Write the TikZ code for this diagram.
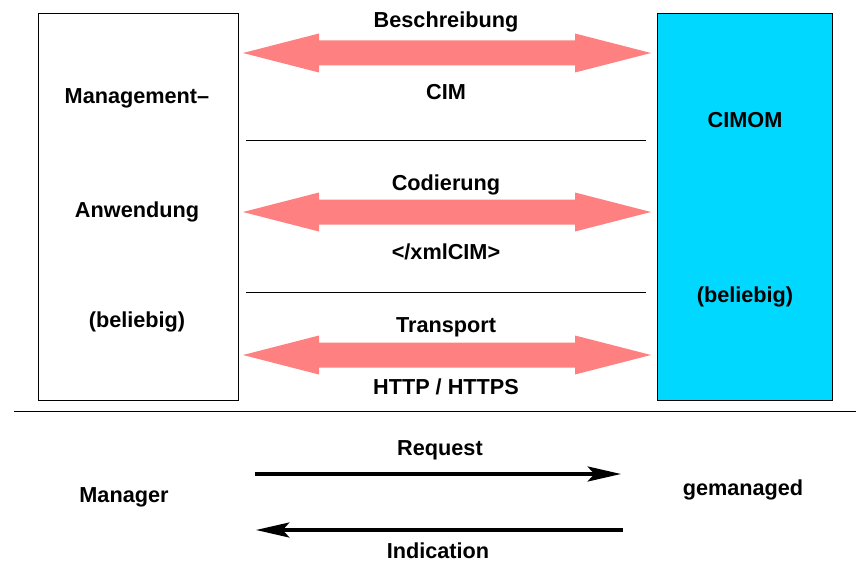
\documentclass[tikz,border=0pt]{standalone}
\usepackage{fontspec}
\setmainfont{Liberation Sans}
\usetikzlibrary{
    arrows.meta,
    positioning,
}
\definecolor{pinkArrow}{HTML}{FF8080}
\definecolor{cimomBlue}{HTML}{00D8FF}

% double-headed block arrow between two named points (408 units apart)
\newcommand{\layerArrow}[2]{%
    \fill [pinkArrow] (#1) -- ++(76,-19.5) -- ++(0,7) -- ++(256,0) -- ++(0,-7)
        -- (#2) -- ++(-76,19.5) -- ++(0,-7) -- ++(-256,0) -- ++(0,7) -- cycle;}

\begin{document}
\begin{tikzpicture}[x=0.03cm,y=-0.03cm,font=\fontsize{18.5}{22}\selectfont\bfseries]

    \tikzstyle{box}=[draw=black, line width=1pt, rectangle, inner sep=0pt, anchor=north west]
    \tikzstyle{label}=[inner sep=0pt, anchor=center]
    \tikzstyle{msg}=[black, line width=3pt, -{Stealth[length=1cm,width=0.45cm,inset=0.2cm]}]
    \tikzstyle{rule}=[black, line width=0.8pt]

    \useasboundingbox (0,0) rectangle (856,562);

    % Boxes
    \node at (38,13)  [box, minimum width=6cm, minimum height=11.61cm] (app)   {};
    \node at (657,13) [box, fill=cimomBlue, minimum width=5.25cm, minimum height=11.61cm] (cimom) {};

    % Texts inside the boxes
    \node at (137,98)  [label] (appA) {Management--};
    \node at (137,212) [label] (appB) {Anwendung};
    \node at (137,322) [label] (appC) {(beliebig)};
    \node at (745,120) [label] (cimA) {CIMOM};
    \node at (745,297) [label] (cimB) {(beliebig)};

    % Layers between the boxes
    \coordinate (l1) at (243,53);  \coordinate (r1) at (651,53);
    \coordinate (l2) at (243,212); \coordinate (r2) at (651,212);
    \coordinate (l3) at (243,355); \coordinate (r3) at (651,355);
    \layerArrow{l1}{r1}
    \layerArrow{l2}{r2}
    \layerArrow{l3}{r3}

    \node at (446,22)  [label] (desc)  {Beschreibung};
    \node at (446,92)  [label] (cim)   {CIM};
    \node at (446,185) [label] (enc)   {Codierung};
    \node at (446,252) [label] (xml)   {</xmlCIM>};
    \node at (446,327) [label] (trans) {Transport};
    \node at (446,387) [label] (http)  {HTTP / HTTPS};

    % Separators
    \coordinate (s1a) at (246,140); \coordinate (s1b) at (646,140);
    \coordinate (s2a) at (246,292); \coordinate (s2b) at (646,292);
    \draw [rule] (s1a) -- (s1b);
    \draw [rule] (s2a) -- (s2b);
    \coordinate (baseL) at (14,411); \coordinate (baseR) at (856,411);
    \draw [rule] (baseL) -- (baseR);

    % Roles and messages
    \node at (124,497) [label] (mgr)  {Manager};
    \node at (743,490) [label] (mgd)  {gemanaged};
    \coordinate (reqA) at (255,474); \coordinate (reqB) at (621,474);
    \coordinate (indA) at (623,530); \coordinate (indB) at (256,530);
    \draw [msg] (reqA) -- (reqB);
    \draw [msg] (indA) -- (indB);
    \node at (440,450) [label] (req) {Request};
    \node at (438,551) [label] (ind) {Indication};

\end{tikzpicture}
\end{document}
